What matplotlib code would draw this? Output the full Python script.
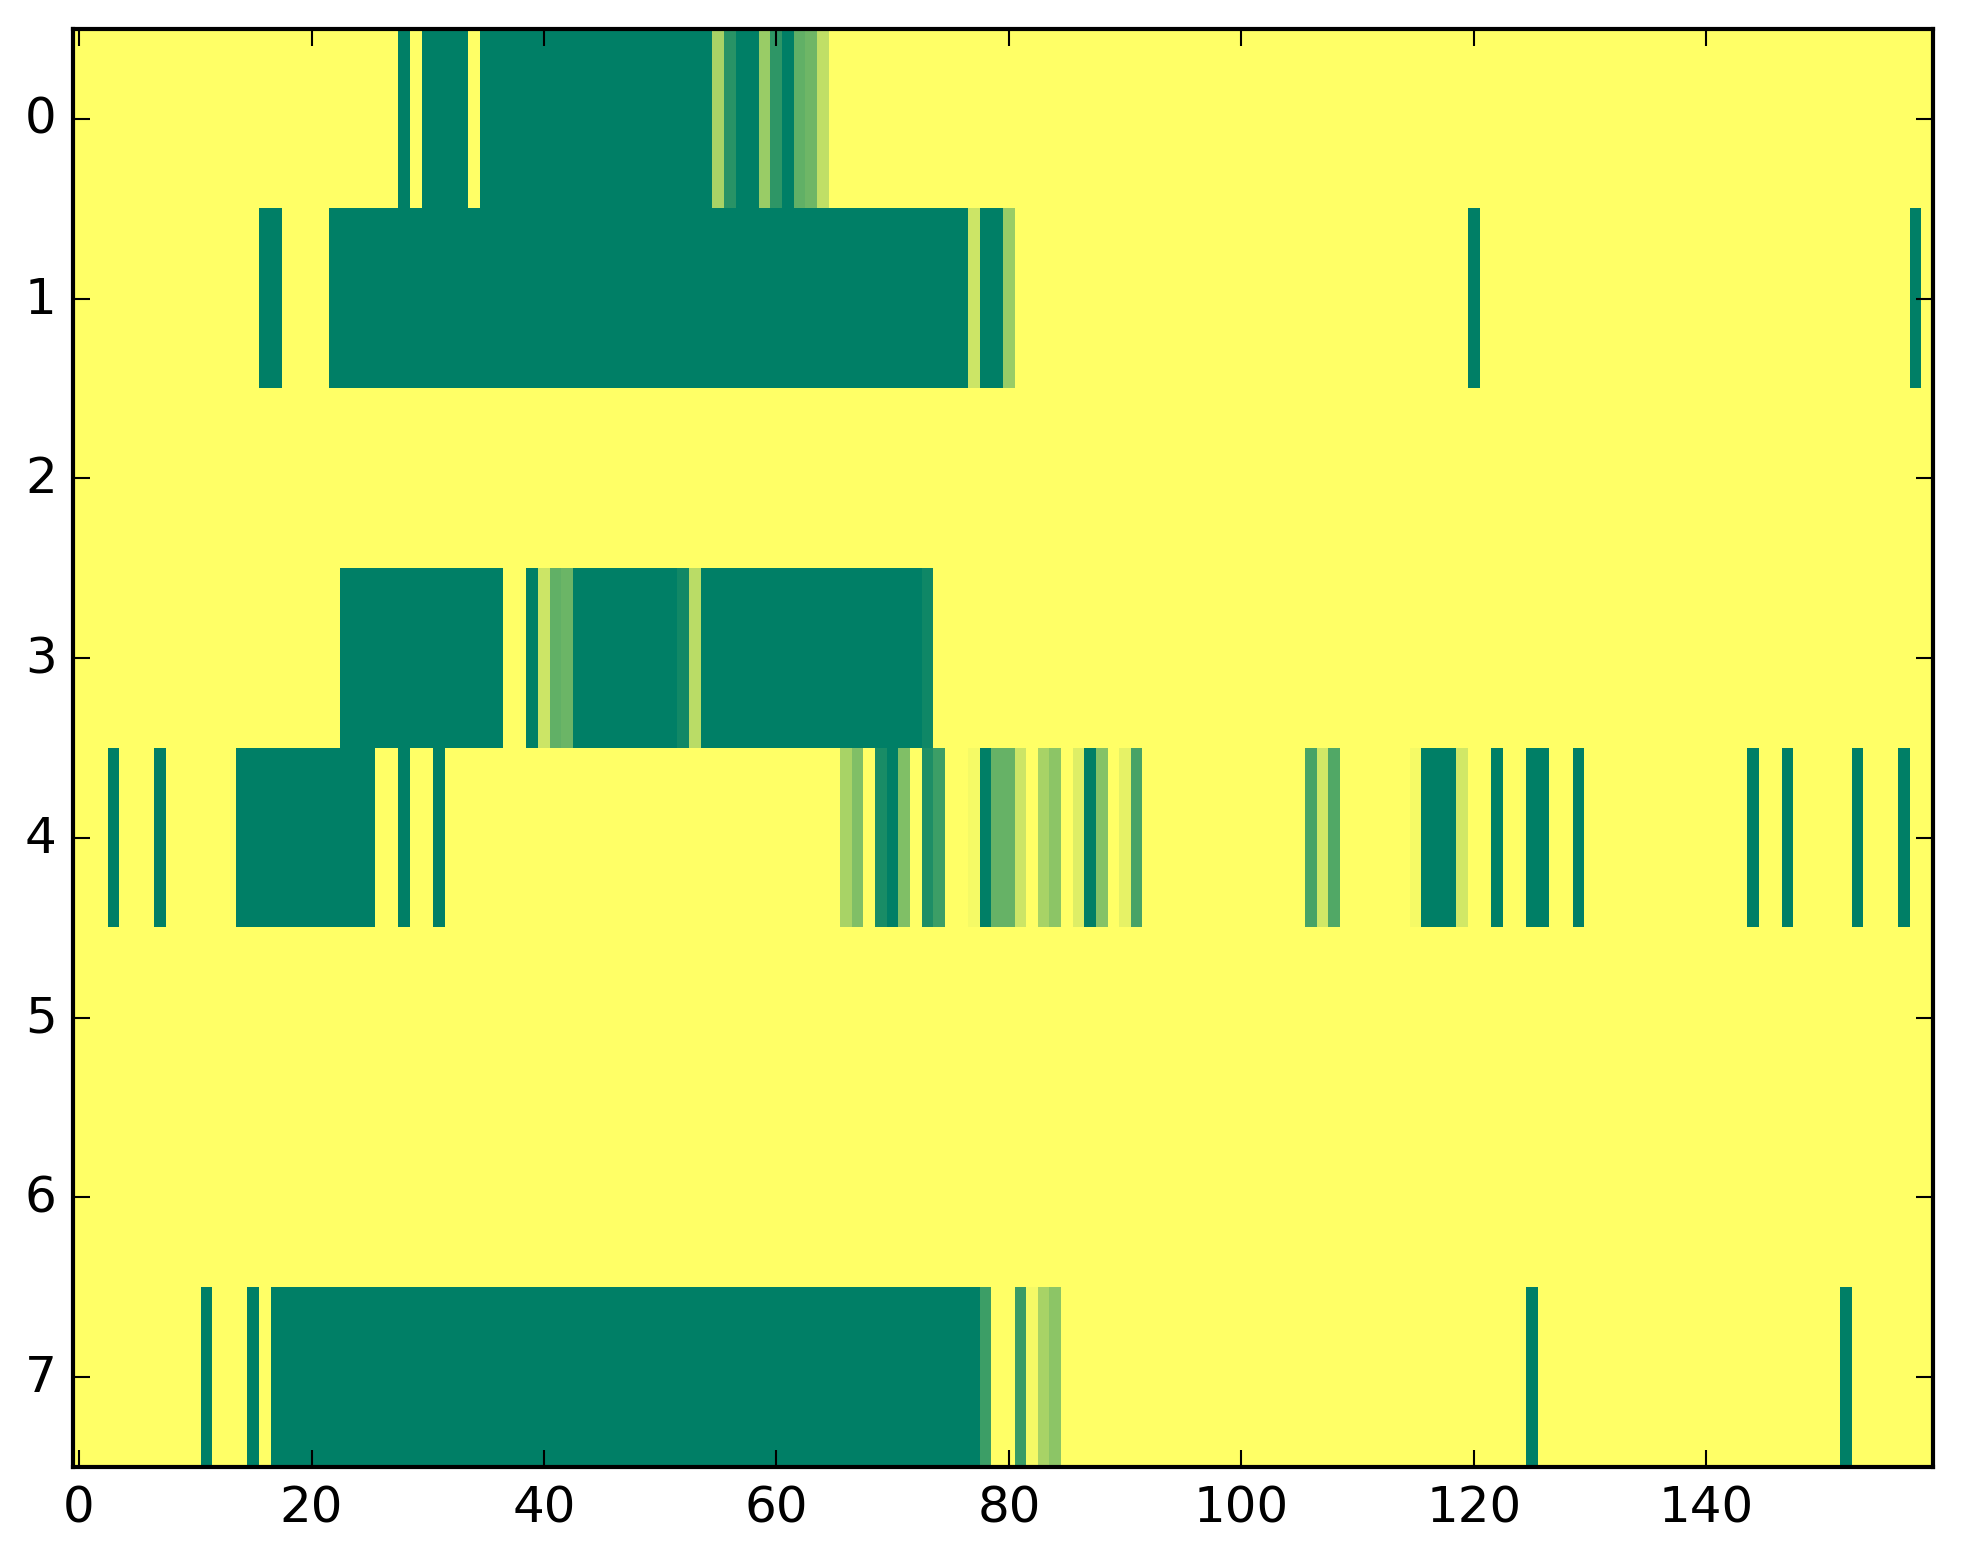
import numpy as np
import matplotlib
matplotlib.use("Agg")
import matplotlib.pyplot as plt

plt.style.use("classic")

n_rows = 8
n_cols = 160

# Non-yellow cells per row as (first_col, last_col, value); every other cell = 1.0
row0_runs = [(28, 28, 0.0), (30, 33, 0.0), (35, 54, 0.0), (55, 55, 0.66), (56, 56, 0.16),
             (57, 58, 0.0), (59, 59, 0.6), (60, 60, 0.18), (61, 61, 0.0), (62, 62, 0.38),
             (63, 63, 0.43), (64, 64, 0.75)]
row1_runs = [(16, 17, 0.0), (22, 76, 0.0), (77, 77, 0.8), (78, 79, 0.0), (80, 80, 0.6),
             (120, 120, 0.0), (158, 158, 0.0)]
row2_runs = []
row3_runs = [(23, 36, 0.0), (39, 39, 0.0), (40, 40, 0.8), (41, 41, 0.38), (42, 42, 0.42),
             (43, 51, 0.0), (52, 52, 0.07), (53, 53, 0.73), (54, 72, 0.0), (73, 73, 0.06)]
row4_runs = [(3, 3, 0.0), (7, 7, 0.0), (14, 25, 0.0), (28, 28, 0.0), (31, 31, 0.0),
             (66, 66, 0.66), (67, 67, 0.5), (69, 69, 0.1), (70, 70, 0.0), (71, 71, 0.5),
             (73, 73, 0.12), (74, 74, 0.24), (77, 77, 0.96), (78, 78, 0.0), (79, 80, 0.4),
             (81, 81, 0.8), (83, 83, 0.66), (84, 84, 0.55), (86, 86, 0.87), (87, 87, 0.0),
             (88, 88, 0.52), (90, 90, 0.9), (91, 91, 0.28), (106, 106, 0.28), (107, 107, 0.82),
             (108, 108, 0.32), (115, 115, 0.96), (116, 118, 0.0), (119, 119, 0.82),
             (122, 122, 0.0), (125, 126, 0.0), (129, 129, 0.0), (144, 144, 0.0),
             (147, 147, 0.0), (153, 153, 0.0), (157, 157, 0.0)]
row5_runs = []
row6_runs = []
row7_runs = [(11, 11, 0.0), (15, 15, 0.0), (17, 77, 0.0), (78, 78, 0.24), (81, 81, 0.22),
             (82, 82, 0.96), (83, 83, 0.66), (84, 84, 0.55), (125, 125, 0.0), (152, 152, 0.0)]

all_runs = [row0_runs, row1_runs, row2_runs, row3_runs, row4_runs, row5_runs, row6_runs, row7_runs]

data = np.ones((n_rows, n_cols))
for r, runs in enumerate(all_runs):
    for a, b, v in runs:
        data[r, a:b + 1] = v

W, H = 1963, 1564
dpi = 300
fig = plt.figure(figsize=(W / dpi, H / dpi), dpi=dpi, facecolor="white")
left, right, top, bottom = 73.3, 1933.0, 30.0, 1468.0
ax = fig.add_axes([left / W, 1 - bottom / H, (right - left) / W, (bottom - top) / H])
ax.imshow(data, cmap="summer", vmin=0, vmax=1, aspect="auto", interpolation="nearest")
ax.set_xlim(-0.5, n_cols - 0.5)
ax.set_ylim(n_rows - 0.5, -0.5)
ax.set_xticks(np.arange(0, 141, 20))
ax.set_yticks(np.arange(0, 8))

fig.savefig("out.png", dpi=dpi, facecolor="white")
